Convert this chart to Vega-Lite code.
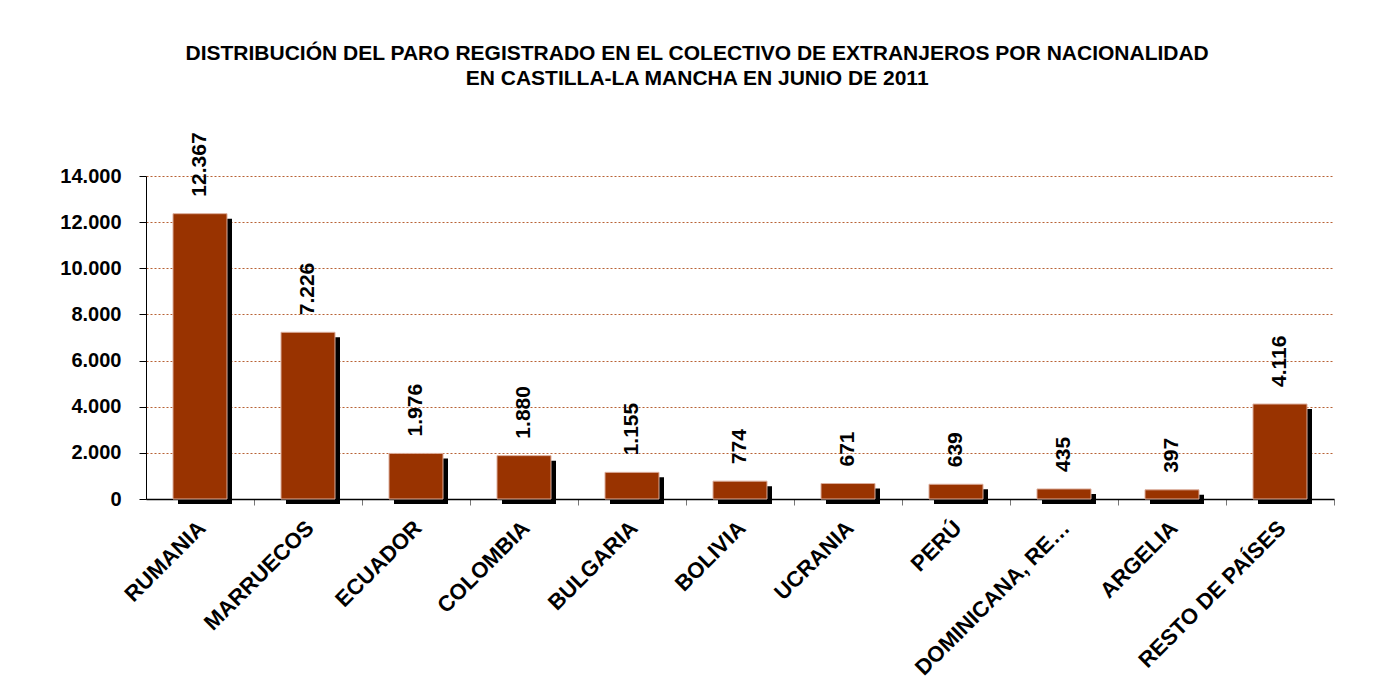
{
  "$schema": "https://vega.github.io/schema/vega-lite/v6.json",
  "autosize": {"type": "none"},
  "padding": {"left": 146, "top": 176, "right": 62, "bottom": 191},
  "width": 1188,
  "height": 323,
  "background": "white",
  "config": {
    "view": {"stroke": null},
    "font": "Liberation Sans",
    "locale": {"number": {"decimal": ",", "thousands": ".", "grouping": [3], "currency": ["", " €"]}}
  },
  "title": {
    "text": ["DISTRIBUCIÓN DEL PARO REGISTRADO EN EL COLECTIVO DE EXTRANJEROS POR NACIONALIDAD", "EN CASTILLA-LA MANCHA EN JUNIO DE 2011"],
    "font": "Liberation Sans",
    "fontSize": 21,
    "fontWeight": "bold",
    "color": "black",
    "anchor": "middle",
    "frame": "bounds",
    "lineHeight": 25,
    "offset": 43
  },
  "data": {
    "values": [
      {"pais": "RUMANIA", "parados": 12367},
      {"pais": "MARRUECOS", "parados": 7226},
      {"pais": "ECUADOR", "parados": 1976},
      {"pais": "COLOMBIA", "parados": 1880},
      {"pais": "BULGARIA", "parados": 1155},
      {"pais": "BOLIVIA", "parados": 774},
      {"pais": "UCRANIA", "parados": 671},
      {"pais": "PERÚ", "parados": 639},
      {"pais": "DOMINICANA, REPÚBLICA", "parados": 435},
      {"pais": "ARGELIA", "parados": 397},
      {"pais": "RESTO DE PAÍSES", "parados": 4116}
    ]
  },
  "encoding": {
    "x": {
      "field": "pais",
      "type": "nominal",
      "sort": null,
      "scale": {"paddingInner": 0, "paddingOuter": 0},
      "axis": {
        "title": null,
        "labelAngle": -45,
        "labelFont": "Liberation Sans",
        "labelFontSize": 22,
        "labelFontWeight": "bold",
        "labelColor": "black",
        "labelPadding": 12,
        "labelOffset": -5,
        "labelLimit": 400,
        "labelExpr": "datum.label == 'DOMINICANA, REPÚBLICA' ? 'DOMINICANA, RE…' : datum.label",
        "domainColor": "black",
        "domainWidth": 1.5,
        "tickColor": "#777777",
        "tickSize": 6,
        "bandPosition": 1,
        "grid": false
      }
    }
  },
  "layer": [
    {
      "mark": {"type": "bar", "color": "black", "width": {"band": 0.5}, "xOffset": 5, "yOffset": 5},
      "encoding": {
        "y": {
          "field": "parados",
          "type": "quantitative",
          "scale": {"domain": [0, 14000], "nice": false},
          "axis": {
            "title": null,
            "values": [0, 2000, 4000, 6000, 8000, 10000, 12000, 14000],
            "format": ",d",
            "labelFont": "Liberation Sans",
            "labelFontSize": 20,
            "labelFontWeight": "bold",
            "labelColor": "black",
            "labelPadding": 18,
            "domainColor": "black",
            "tickColor": "black",
            "tickSize": 7,
            "grid": true,
            "gridColor": "#b0501e",
            "gridDash": [2, 2],
            "gridOpacity": 0.9
          }
        }
      }
    },
    {
      "mark": {"type": "bar", "color": "#993300", "stroke": "#dcae9c", "strokeWidth": 1, "width": {"band": 0.5}},
      "encoding": {
        "y": {"field": "parados", "type": "quantitative"}
      }
    },
    {
      "mark": {"type": "text", "angle": 270, "align": "left", "baseline": "middle", "dx": 17, "font": "Liberation Sans", "fontSize": 21, "fontWeight": "bold", "color": "black"},
      "encoding": {
        "y": {"field": "parados", "type": "quantitative"},
        "text": {"field": "parados", "type": "quantitative", "format": ",d"}
      }
    }
  ]
}
